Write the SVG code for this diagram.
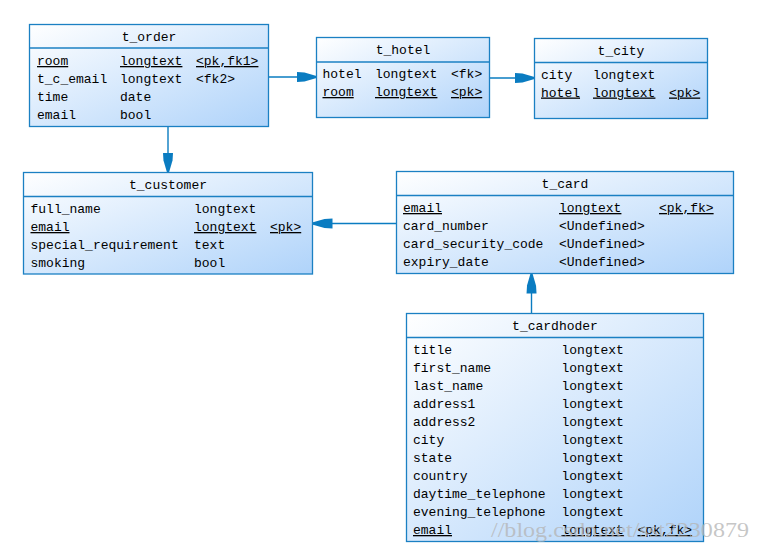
<svg xmlns="http://www.w3.org/2000/svg" width="761" height="554" viewBox="0 0 761 554">
<defs>
<linearGradient id="g" x1="0" y1="0" x2="1" y2="1">
<stop offset="0" stop-color="#ffffff"/>
<stop offset="1" stop-color="#afd3fa"/>
</linearGradient>
<marker id="ah" viewBox="0 0 20 12" refX="20" refY="6" markerWidth="20" markerHeight="12" markerUnits="userSpaceOnUse" orient="auto">
<path d="M0,1 L8,1.5 L20,5 L20,7 L8,10.5 L0,11 z" fill="#0a7cc1"/>
</marker>
<style>
.box{fill:url(#g);stroke:#1b80c3;stroke-width:1.3}
.sep{stroke:#1b80c3;stroke-width:1.3}
text{font-family:"Liberation Mono","DejaVu Sans Mono",monospace;font-size:13px;fill:#000}
.t{text-anchor:middle}
.u{text-decoration:underline}
.c{stroke:#0a7cc1;stroke-width:1.4;fill:none;marker-end:url(#ah)}
.wm{font-family:"Liberation Serif",serif;font-size:21px;fill:#b4b4b4;fill-opacity:0.75}
</style>
</defs>
<rect width="761" height="554" fill="#fff"/>

<g id="connectors">
<line class="c" x1="268.5" y1="77" x2="316.5" y2="77"/>
<line class="c" x1="489.5" y1="78" x2="534.5" y2="78"/>
<line class="c" x1="168" y1="126.5" x2="168" y2="172.5"/>
<line class="c" x1="396.5" y1="223.5" x2="312.5" y2="223.5"/>
<line class="c" x1="531.5" y1="313.5" x2="531.5" y2="273.5"/>
</g>

<g id="t_order">
<rect class="box" x="29.5" y="24.5" width="239" height="102"/>
<line class="sep" x1="29.5" y1="48" x2="268.5" y2="48"/>
<text class="t" x="149" y="41">t_order</text>
<text x="37" y="65" class="u">room</text><text x="120" y="65" class="u">longtext</text><text x="196" y="65" class="u">&lt;pk,fk1&gt;</text>
<text x="37" y="83">t_c_email</text><text x="120" y="83">longtext</text><text x="196" y="83">&lt;fk2&gt;</text>
<text x="37" y="101">time</text><text x="120" y="101">date</text>
<text x="37" y="119">email</text><text x="120" y="119">bool</text>
</g>

<g id="t_hotel">
<rect class="box" x="316.5" y="37.5" width="173" height="80"/>
<line class="sep" x1="316.5" y1="62" x2="489.5" y2="62"/>
<text class="t" x="403" y="54">t_hotel</text>
<text x="322.5" y="78">hotel</text><text x="375" y="78">longtext</text><text x="451" y="78">&lt;fk&gt;</text>
<text x="322.5" y="96" class="u">room</text><text x="375" y="96" class="u">longtext</text><text x="451" y="96" class="u">&lt;pk&gt;</text>
</g>

<g id="t_city">
<rect class="box" x="534.5" y="38.5" width="173" height="80"/>
<line class="sep" x1="534.5" y1="62.5" x2="707.5" y2="62.5"/>
<text class="t" x="621" y="55">t_city</text>
<text x="541" y="78.5">city</text><text x="593" y="78.5">longtext</text>
<text x="541" y="96.5" class="u">hotel</text><text x="593" y="96.5" class="u">longtext</text><text x="669" y="96.5" class="u">&lt;pk&gt;</text>
</g>

<g id="t_customer">
<rect class="box" x="23.5" y="172.5" width="289" height="101.5"/>
<line class="sep" x1="23.5" y1="196.5" x2="312.5" y2="196.5"/>
<text class="t" x="168" y="189">t_customer</text>
<text x="30.5" y="213">full_name</text><text x="194" y="213">longtext</text>
<text x="30.5" y="231" class="u">email</text><text x="194" y="231" class="u">longtext</text><text x="270" y="231" class="u">&lt;pk&gt;</text>
<text x="30.5" y="249">special_requirement</text><text x="194" y="249">text</text>
<text x="30.5" y="267">smoking</text><text x="194" y="267">bool</text>
</g>

<g id="t_card">
<rect class="box" x="396.5" y="171.5" width="337" height="102"/>
<line class="sep" x1="396.5" y1="195.5" x2="733.5" y2="195.5"/>
<text class="t" x="565" y="188">t_card</text>
<text x="403" y="212" class="u">email</text><text x="559" y="212" class="u">longtext</text><text x="659" y="212" class="u">&lt;pk,fk&gt;</text>
<text x="403" y="230">card_number</text><text x="559" y="230">&lt;Undefined&gt;</text>
<text x="403" y="248">card_security_code</text><text x="559" y="248">&lt;Undefined&gt;</text>
<text x="403" y="266">expiry_date</text><text x="559" y="266">&lt;Undefined&gt;</text>
</g>

<g id="t_cardhoder">
<rect class="box" x="406.5" y="313.5" width="297" height="228"/>
<line class="sep" x1="406.5" y1="337.5" x2="703.5" y2="337.5"/>
<text class="t" x="555" y="330">t_cardhoder</text>
<text x="413" y="354">title</text><text x="561.5" y="354">longtext</text>
<text x="413" y="372">first_name</text><text x="561.5" y="372">longtext</text>
<text x="413" y="390">last_name</text><text x="561.5" y="390">longtext</text>
<text x="413" y="408">address1</text><text x="561.5" y="408">longtext</text>
<text x="413" y="426">address2</text><text x="561.5" y="426">longtext</text>
<text x="413" y="444">city</text><text x="561.5" y="444">longtext</text>
<text x="413" y="462">state</text><text x="561.5" y="462">longtext</text>
<text x="413" y="480">country</text><text x="561.5" y="480">longtext</text>
<text x="413" y="498">daytime_telephone</text><text x="561.5" y="498">longtext</text>
<text x="413" y="516">evening_telephone</text><text x="561.5" y="516">longtext</text>
<text x="413" y="534" class="u">email</text><text x="561.5" y="534" class="u">longtext</text><text x="637.5" y="534" class="u">&lt;pk,fk&gt;</text>
</g>

<text class="wm" x="491" y="537" textLength="258" lengthAdjust="spacingAndGlyphs">//blog.csdn.net/sst2230879</text>
</svg>
